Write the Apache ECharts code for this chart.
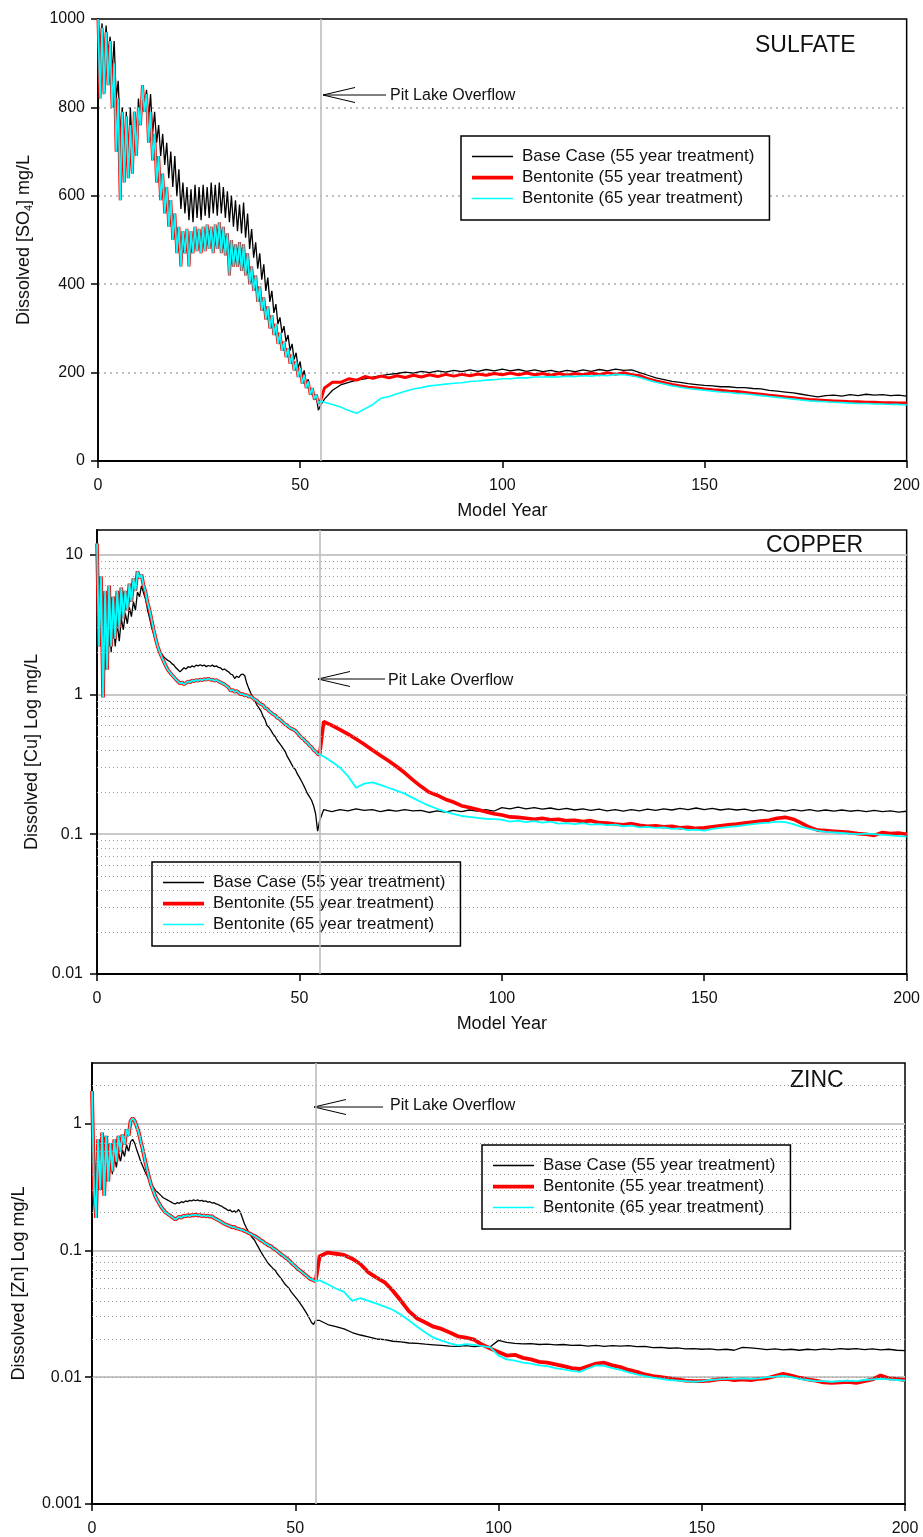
<!DOCTYPE html>
<html>
<head>
<meta charset="utf-8">
<script src="https://cdn.jsdelivr.net/npm/echarts@6/dist/echarts.min.js"></script>
<style>
  html, body { margin: 0; padding: 0; background: #fff; }
  #chart { width: 923px; height: 1537px; }
</style>
</head>
<body>
<div id="chart"></div>
<script>
// model years: half-year steps up to the overflow, then every 2 years
const yearsEarly = [
  0, 0.5, 1, 1.5, 2, 2.5, 3, 3.5, 4, 4.5,
  5, 5.5, 6, 6.5, 7, 7.5, 8, 8.5, 9, 9.5,
  10, 10.5, 11, 11.5, 12, 12.5, 13, 13.5, 14, 14.5,
  15, 15.5, 16, 16.5, 17, 17.5, 18, 18.5, 19, 19.5,
  20, 20.5, 21, 21.5, 22, 22.5, 23, 23.5, 24, 24.5,
  25, 25.5, 26, 26.5, 27, 27.5, 28, 28.5, 29, 29.5,
  30, 30.5, 31, 31.5, 32, 32.5, 33, 33.5, 34, 34.5,
  35, 35.5, 36, 36.5, 37, 37.5, 38, 38.5, 39, 39.5,
  40, 40.5, 41, 41.5, 42, 42.5, 43, 43.5, 44, 44.5,
  45, 45.5, 46, 46.5, 47, 47.5, 48, 48.5, 49, 49.5,
  50, 50.5, 51, 51.5, 52, 52.5, 53, 53.5, 54, 54.5,
  55
];
const yearsLate = [
  56, 58, 60, 62, 64, 66, 68, 70, 72, 74,
  76, 78, 80, 82, 84, 86, 88, 90, 92, 94,
  96, 98, 100, 102, 104, 106, 108, 110, 112, 114,
  116, 118, 120, 122, 124, 126, 128, 130, 132, 134,
  136, 138, 140, 142, 144, 146, 148, 150, 152, 154,
  156, 158, 160, 162, 164, 166, 168, 170, 172, 174,
  176, 178, 180, 182, 184, 186, 188, 190, 192, 194,
  196, 198, 200
];

const seriesNames = [
  "Base Case (55 year treatment)",
  "Bentonite (55 year treatment)",
  "Bentonite (65 year treatment)"
];
const overflowYear = 55;

// ---- sulfate (mg/L) ----
const soBaseEarly = [
  1000, 930, 990, 900, 985, 920, 960, 880, 950, 820,
  860, 740, 800, 680, 790, 650, 800, 700, 790, 700,
  820, 760, 850, 800, 840, 770, 830, 740, 790, 720,
  760, 690, 740, 670, 720, 640, 700, 620, 690, 600,
  660, 570, 630, 560, 620, 545, 615, 540, 625, 550,
  620, 545, 625, 555, 620, 550, 630, 560, 625, 555,
  630, 560, 620, 550, 610, 540, 600, 530, 590, 520,
  580, 515, 585, 505, 560, 480, 525, 460, 495, 435,
  470, 410, 445, 385, 415, 360, 385, 335, 355, 310,
  325, 290, 305, 270, 285, 250, 265, 230, 245, 210,
  225, 190, 205, 172, 185, 155, 165, 138, 145, 115,
  125
];
// both bentonite runs coincide until the overflow
const soBentEarly = [
  1000, 820, 980, 830, 970, 850, 950, 800, 900, 700,
  820, 590, 790, 630, 780, 640, 760, 650, 790, 690,
  800, 760, 850, 790, 830, 720, 790, 680, 740, 630,
  690, 590, 650, 560, 620, 530, 590, 500, 560, 470,
  530, 440, 520, 470, 525, 440, 520, 470, 530, 475,
  525, 470, 530, 475, 535, 480, 530, 470, 535, 480,
  540, 470, 530, 465, 515, 420, 500, 440, 490, 440,
  495, 430, 490, 420, 470, 400, 440, 385, 420, 360,
  395, 340, 370, 320, 350, 300, 330, 285, 310, 265,
  290, 250, 270, 235, 255, 220, 240, 205, 225, 190,
  210, 175, 195, 165, 180, 150, 165, 140, 150, 130,
  135
];
const soBaseLate = [
  140, 160, 172, 178, 183, 186, 190, 193, 196, 198,
  201, 199, 203, 200, 204, 201, 205, 202, 206, 203,
  207, 204, 208, 204, 207, 203, 206, 202, 205, 201,
  205, 202, 206, 203, 207, 204, 208, 205, 206, 200,
  194, 188, 184, 180, 178, 175, 173, 171, 170, 168,
  168, 166, 166, 164, 163, 160, 158, 156, 154, 151,
  148, 145, 148, 149, 147, 150, 148, 151, 149, 150,
  148, 149, 147
];
const soRedLate = [
  165, 178, 178, 186, 183, 191, 187, 192, 188, 193,
  189, 194, 190, 195, 191, 196, 192, 196, 193, 197,
  194, 198, 195, 199, 195, 199, 195, 198, 194, 198,
  194, 198, 195, 199, 195, 200, 196, 200, 195, 193,
  186, 181, 177, 173, 170, 167, 165, 163, 161, 160,
  158, 157, 155, 153, 151, 149, 147, 145, 143, 141,
  139, 138, 137, 136, 135, 134, 134, 133, 133, 132,
  132, 131, 131
];
const soCyanLate = [
  133, 128, 122, 114, 108, 118, 128, 142, 146, 152,
  158, 163, 166, 170, 172, 174, 176, 177, 180, 181,
  183, 184, 186, 186, 188, 188, 190, 190, 191, 190,
  192, 191, 193, 192, 194, 193, 196, 195, 193, 189,
  183, 178, 174, 170, 167, 164, 162, 160, 158, 156,
  155, 153, 152, 150, 148, 146, 144, 142, 140, 138,
  136, 135, 134, 133, 132, 131, 130, 130, 129, 129,
  128, 128, 127
];

// ---- copper (mg/L, log) ----
const cuBaseEarly = [
  10, 3, 6, 1.3, 4.5, 1.6, 4, 2.0, 3.6, 2.2,
  3.2, 2.4, 3.5, 2.9, 3.8, 3.2, 4.2, 3.6, 4.6, 4.0,
  5.4, 5.0, 6.0, 5.3, 4.8, 4.0, 3.5, 3.0, 2.7, 2.4,
  2.2, 2.05, 1.95, 1.85, 1.8, 1.75, 1.72, 1.66, 1.62, 1.55,
  1.5, 1.45, 1.5, 1.55, 1.52, 1.58, 1.56, 1.6, 1.57, 1.62,
  1.6, 1.63, 1.6, 1.62, 1.58, 1.61, 1.59, 1.62, 1.58, 1.6,
  1.56, 1.55, 1.5, 1.52, 1.48, 1.45, 1.4, 1.38, 1.3, 1.35,
  1.32, 1.38, 1.4, 1.36, 1.2, 1.1, 1.02, 0.96, 0.9, 0.84,
  0.8, 0.76, 0.7, 0.66, 0.6, 0.58, 0.55, 0.52, 0.5, 0.47,
  0.45, 0.43, 0.41, 0.39, 0.36, 0.34, 0.32, 0.3, 0.29, 0.27,
  0.255, 0.24, 0.225, 0.21, 0.195, 0.185, 0.175, 0.16, 0.14, 0.105,
  0.125
];
const cuBentEarly = [
  12, 2.2, 7, 0.95, 5.5, 1.5, 6, 2.2, 5, 2.5,
  5.5, 3.0, 5.8, 3.5, 5.5, 4.0, 6.2, 4.6, 6.8, 5.5,
  7.6, 6.8, 7.2, 6.0, 5.4, 4.5, 4.0, 3.4, 2.9, 2.5,
  2.2, 2.0, 1.85, 1.72, 1.6, 1.5, 1.44, 1.38, 1.33, 1.28,
  1.24, 1.2, 1.22, 1.18, 1.21, 1.24, 1.22, 1.26, 1.24, 1.27,
  1.25, 1.28, 1.26, 1.29, 1.27, 1.3, 1.27, 1.28, 1.25, 1.27,
  1.24, 1.22, 1.2, 1.18, 1.15, 1.12, 1.06, 1.08, 1.04, 1.06,
  1.03, 1.0, 1.01, 0.98, 0.99, 0.96, 0.97, 0.94, 0.92, 0.9,
  0.87, 0.85, 0.84, 0.8, 0.79, 0.76, 0.74, 0.72, 0.71, 0.68,
  0.67, 0.65, 0.63, 0.61, 0.6, 0.58, 0.57, 0.56, 0.55, 0.53,
  0.51, 0.49, 0.48, 0.46, 0.45, 0.43, 0.42, 0.4, 0.39, 0.375,
  0.37
];
const cuBaseLate = [
  0.15, 0.145, 0.15, 0.147, 0.152, 0.148, 0.15, 0.145, 0.149, 0.146,
  0.15, 0.147, 0.148, 0.143, 0.147, 0.144, 0.148, 0.145, 0.149, 0.146,
  0.15, 0.146, 0.155, 0.152, 0.156, 0.152, 0.155, 0.151, 0.154, 0.15,
  0.153, 0.149, 0.152, 0.148, 0.151, 0.147, 0.15, 0.146, 0.15, 0.147,
  0.151, 0.148, 0.152, 0.149, 0.153, 0.15, 0.154, 0.15, 0.153, 0.149,
  0.152, 0.149, 0.151, 0.147, 0.15, 0.146, 0.149, 0.146, 0.15, 0.147,
  0.15, 0.146, 0.149, 0.146, 0.149, 0.146, 0.148, 0.145, 0.148, 0.145,
  0.147, 0.144, 0.146
];
const cuRedLate = [
  0.64, 0.6, 0.56, 0.52, 0.48, 0.44, 0.4, 0.365, 0.335, 0.305,
  0.275, 0.245, 0.22, 0.2, 0.19, 0.178, 0.17, 0.16, 0.155, 0.15,
  0.145, 0.14, 0.137, 0.133, 0.132, 0.13, 0.128, 0.13, 0.127, 0.128,
  0.125, 0.126, 0.123, 0.125, 0.121, 0.12, 0.118, 0.117, 0.119, 0.116,
  0.114, 0.115, 0.113, 0.114, 0.111, 0.112, 0.11, 0.111, 0.113, 0.115,
  0.117, 0.118, 0.12, 0.122, 0.124, 0.126, 0.13, 0.132, 0.128, 0.12,
  0.112, 0.107, 0.106, 0.105, 0.104, 0.103, 0.101, 0.1, 0.098, 0.103,
  0.101, 0.102, 0.1
];
const cuCyanLate = [
  0.36, 0.33, 0.3, 0.26, 0.215, 0.23, 0.235, 0.225, 0.215, 0.205,
  0.195, 0.182, 0.17, 0.16, 0.152, 0.145, 0.14, 0.135, 0.133, 0.131,
  0.129, 0.128, 0.127, 0.123, 0.125, 0.122, 0.124, 0.121, 0.123, 0.119,
  0.12, 0.118, 0.12, 0.117, 0.118, 0.116, 0.117, 0.114, 0.115, 0.112,
  0.113, 0.111, 0.112, 0.109, 0.11, 0.107, 0.108, 0.106, 0.109, 0.111,
  0.113, 0.114, 0.116, 0.118, 0.12, 0.121, 0.123, 0.122, 0.118, 0.113,
  0.109, 0.106, 0.104, 0.103, 0.102, 0.101, 0.1, 0.101, 0.1, 0.099,
  0.098, 0.097, 0.096
];

// ---- zinc (mg/L, log) ----
const znBaseEarly = [
  1.6, 0.35, 0.2, 0.7, 0.3, 0.75, 0.3, 0.65, 0.36, 0.55,
  0.4, 0.55, 0.45, 0.6, 0.5, 0.62, 0.55, 0.68, 0.6, 0.72,
  0.75, 0.7, 0.62, 0.56, 0.5, 0.46, 0.42, 0.39, 0.36, 0.34,
  0.32, 0.3, 0.29, 0.28, 0.27, 0.26, 0.255, 0.25, 0.245, 0.24,
  0.235, 0.232, 0.238, 0.235, 0.242, 0.238, 0.245, 0.242, 0.248, 0.245,
  0.25, 0.246, 0.25, 0.245, 0.248, 0.243, 0.245, 0.24, 0.242, 0.236,
  0.238, 0.232, 0.23, 0.225, 0.222, 0.216, 0.212, 0.206, 0.208, 0.2,
  0.205, 0.198, 0.21, 0.2, 0.18, 0.162, 0.15, 0.14, 0.132, 0.125,
  0.12, 0.112, 0.105, 0.098, 0.092, 0.087, 0.082, 0.078, 0.075, 0.072,
  0.07, 0.066, 0.063, 0.06, 0.057, 0.054, 0.052, 0.05, 0.047, 0.045,
  0.043, 0.041, 0.039, 0.037, 0.035, 0.033, 0.031, 0.029, 0.027, 0.026,
  0.028
];
const znBentEarly = [
  1.8, 0.3, 0.18, 0.75, 0.3, 0.85, 0.27, 0.8, 0.35, 0.7,
  0.42, 0.75, 0.5, 0.8, 0.6, 0.82, 0.68, 0.9, 0.8, 1.05,
  1.1, 1.05, 0.95, 0.85, 0.72, 0.62, 0.52, 0.44, 0.38, 0.33,
  0.3, 0.27, 0.25, 0.235, 0.22, 0.21, 0.2, 0.195, 0.19, 0.185,
  0.18, 0.175, 0.18, 0.185, 0.18, 0.188, 0.185, 0.19, 0.186, 0.19,
  0.188, 0.192, 0.188, 0.19, 0.186, 0.189, 0.185, 0.188, 0.184, 0.186,
  0.18, 0.177, 0.173, 0.17, 0.166, 0.162, 0.16, 0.157, 0.155, 0.152,
  0.153, 0.149, 0.148, 0.146, 0.145, 0.142, 0.14, 0.137, 0.135, 0.132,
  0.13, 0.127, 0.124, 0.12, 0.118, 0.114, 0.112, 0.109, 0.108, 0.104,
  0.102, 0.099, 0.096, 0.093, 0.091, 0.088, 0.086, 0.083, 0.08, 0.077,
  0.075, 0.072, 0.07, 0.068, 0.066, 0.064, 0.062, 0.06, 0.059, 0.058,
  0.057
];
const znBaseLate = [
  0.028, 0.026, 0.025, 0.024, 0.0225, 0.0215, 0.0208, 0.02, 0.0198, 0.0192,
  0.019, 0.0186, 0.0185, 0.0182, 0.018, 0.0178, 0.0176, 0.0175, 0.0177, 0.0174,
  0.0176, 0.0174, 0.0195, 0.0188, 0.0185, 0.0183, 0.0184, 0.0181, 0.0182, 0.018,
  0.0181, 0.0178, 0.0179, 0.0176, 0.0178, 0.0175, 0.0177, 0.0176, 0.0177, 0.0174,
  0.0175, 0.0171, 0.0172, 0.0169, 0.017, 0.0167, 0.0168, 0.0166, 0.0167, 0.0164,
  0.0166, 0.0163, 0.0172, 0.017, 0.0168, 0.0165, 0.0167, 0.0164, 0.0166, 0.0163,
  0.0166, 0.0164, 0.0167, 0.0165, 0.0168, 0.0166, 0.0168, 0.0165, 0.0167, 0.0164,
  0.0166, 0.0163, 0.0162
];
const znRedLate = [
  0.09, 0.096, 0.094, 0.092, 0.086, 0.078, 0.067, 0.061, 0.056, 0.048,
  0.04, 0.033, 0.029, 0.027, 0.025, 0.024, 0.0225, 0.021, 0.0205, 0.0198,
  0.018, 0.0168, 0.0158, 0.0148, 0.015, 0.0142, 0.0138, 0.0132, 0.013, 0.0126,
  0.0122, 0.0118, 0.0116, 0.0122, 0.0128, 0.013, 0.0124, 0.012, 0.0114, 0.011,
  0.0105, 0.0102, 0.01, 0.0098, 0.0096, 0.0094, 0.0093, 0.0093, 0.0094, 0.0096,
  0.0097, 0.0095, 0.0096, 0.0095, 0.0097, 0.0098, 0.0102, 0.0106, 0.0103, 0.0099,
  0.0096, 0.0094, 0.0091, 0.009, 0.0091, 0.0092, 0.009, 0.0093, 0.0096, 0.0103,
  0.0098, 0.0097, 0.0095
];
const znCyanLate = [
  0.058, 0.054, 0.05, 0.047, 0.04, 0.042, 0.04, 0.038, 0.036, 0.034,
  0.031, 0.028, 0.025, 0.0225, 0.0205, 0.0194, 0.0185, 0.0178, 0.0182, 0.018,
  0.0176, 0.0172, 0.0148, 0.0138, 0.0135, 0.013, 0.0128, 0.0124, 0.0122, 0.0118,
  0.0115, 0.0112, 0.011, 0.0117, 0.0124, 0.0123, 0.0118, 0.0114, 0.0109, 0.0105,
  0.0102, 0.0099, 0.0097, 0.0095, 0.0094, 0.0093, 0.0092, 0.0093, 0.0095, 0.0096,
  0.0097, 0.0097, 0.0098, 0.0097, 0.0098, 0.01, 0.0101, 0.0103, 0.01, 0.0097,
  0.0095, 0.0093, 0.0093, 0.0092, 0.0093, 0.0094, 0.0093, 0.0095, 0.0096, 0.0097,
  0.0096, 0.0095, 0.0094
];

// dotted minor grid values on the log panels
const cuMinorGrid = [0.02, 0.03, 0.04, 0.05, 0.06, 0.07, 0.08, 0.09,
  0.2, 0.3, 0.4, 0.5, 0.6, 0.7, 0.8, 0.9, 2, 3, 4, 5, 6, 7, 8, 9];
const znMinorGrid = [0.002, 0.003, 0.004, 0.005, 0.006, 0.007, 0.008, 0.009,
  0.02, 0.03, 0.04, 0.05, 0.06, 0.07, 0.08, 0.09,
  0.2, 0.3, 0.4, 0.5, 0.6, 0.7, 0.8, 0.9, 2];

const years = yearsEarly.concat(yearsLate);
const pairs = (early, late) => {
  const v = early.concat(late);
  return years.map((x, i) => [x, v[i]]);
};

const FONT = '"Liberation Sans", Arial, sans-serif';
const colors = ["#000000", "#ff0000", "#00ffff"];

// legend line samples (thin / thick bar inside a 41x14 box)
const thinIcon = "path://M0,0h0.01v0.01h-0.01z M0,6.3h41v1.5h-41z M0,14h0.01v0.01h-0.01z";
const thickIcon = "path://M0,0h0.01v0.01h-0.01z M0,5.3h41v3.6h-41z M0,14h0.01v0.01h-0.01z";

const chart = echarts.init(document.getElementById("chart"));

const xAxisBase = (idx, withName) => ({
  type: "value",
  gridIndex: idx,
  min: 0,
  max: 200,
  interval: 50,
  name: withName ? "Model Year" : "",
  nameLocation: "middle",
  nameGap: 41,
  nameTextStyle: { fontSize: 18, color: "#111", fontFamily: FONT },
  axisLine: { show: true, onZero: false, lineStyle: { color: "#000", width: 1.8 } },
  axisTick: { show: true, inside: false, length: 7, lineStyle: { color: "#000", width: 1.5 } },
  axisLabel: { fontSize: 16, color: "#111", margin: 17, fontFamily: FONT },
  splitLine: { show: false },
});

const yAxisCommon = {
  nameLocation: "middle",
  nameTextStyle: {
    fontSize: 18,
    color: "#111",
    fontFamily: FONT,
    rich: { sub: { fontSize: 11, padding: [9, 0, 0, 0], fontFamily: FONT, color: "#111" } },
  },
  axisLine: { show: true, lineStyle: { color: "#000", width: 1.8 } },
  axisTick: { show: true, inside: false, length: 7, lineStyle: { color: "#000", width: 1.5 } },
};

// helper series carrying the vertical overflow line and minor grid
const helper = (idx, minor) => ({
  type: "line",
  xAxisIndex: idx,
  yAxisIndex: idx,
  data: [],
  silent: true,
  markLine: {
    silent: true,
    symbol: "none",
    animation: false,
    label: { show: false },
    data: minor
      .map((v) => ({ yAxis: v, lineStyle: { type: [1, 3], color: "#999", width: 1 } }))
      .concat([{ xAxis: overflowYear, lineStyle: { type: "solid", color: "#bdbdbd", width: 1.6 } }]),
  },
});

const panelSeries = (idx, sets, widths) =>
  sets.map((d, k) => ({
    name: seriesNames[k],
    type: "line",
    xAxisIndex: idx,
    yAxisIndex: idx,
    data: d,
    showSymbol: false,
    symbol: "none",
    lineStyle: { color: colors[k], width: widths[k] },
    itemStyle: { color: colors[k] },
    z: 3 + k,
  }));

const legendAt = (left, top) => ({
  data: [
    { name: seriesNames[0], icon: thinIcon },
    { name: seriesNames[1], icon: thickIcon },
    { name: seriesNames[2], icon: thinIcon },
  ],
  orient: "vertical",
  left: left,
  top: top,
  itemWidth: 41,
  itemHeight: 14,
  itemGap: 4,
  symbolKeepAspect: false,
  padding: [12, 15, 13, 11],
  borderColor: "#000",
  borderWidth: 1.5,
  backgroundColor: "#fff",
  selectedMode: false,
  textStyle: { fontSize: 17, color: "#111", fontFamily: FONT, padding: [0, 0, 0, 4] },
});

const arrow = (tipX, y, endX) => [
  { type: "line", shape: { x1: tipX, y1: y, x2: endX, y2: y }, style: { stroke: "#000", lineWidth: 1 } },
  {
    type: "polyline",
    shape: { points: [[tipX + 32, y - 7.5], [tipX, y], [tipX + 32, y + 7.5]] },
    style: { stroke: "#000", fill: null, lineWidth: 1 },
  },
];
const textAt = (x, y, text, size) => ({
  type: "text",
  x: x,
  y: y,
  style: { text: text, fontSize: size, fontFamily: FONT, fill: "#111", verticalAlign: "middle" },
});

chart.setOption({
  animation: false,
  textStyle: { fontFamily: FONT },
  grid: [
    { left: 98, top: 19, width: 812, height: 442, show: true, borderColor: "#000", borderWidth: 1.5, backgroundColor: "transparent" },
    { left: 97, top: 530, width: 811, height: 444, show: true, borderColor: "#000", borderWidth: 1.5, backgroundColor: "transparent" },
    { left: 92, top: 1063, width: 813, height: 441, show: true, borderColor: "#000", borderWidth: 1.5, backgroundColor: "transparent" },
  ],
  xAxis: [xAxisBase(0, true), xAxisBase(1, true), xAxisBase(2, false)],
  yAxis: [
    Object.assign({}, yAxisCommon, {
      type: "value",
      gridIndex: 0,
      min: 0,
      max: 1000,
      interval: 200,
      name: "Dissolved [SO{sub|4}] mg/L",
      nameGap: 64,
      axisLabel: { fontSize: 16, color: "#111", margin: 13, fontFamily: FONT, formatter: (v) => String(v) },
      splitLine: { show: true, showMinLine: false, showMaxLine: false, lineStyle: { type: [2, 4], color: "#aaa", width: 1.5 } },
    }),
    Object.assign({}, yAxisCommon, {
      type: "log",
      logBase: 10,
      gridIndex: 1,
      min: 0.01,
      max: 15,
      name: "Dissolved [Cu] Log mg/L",
      nameGap: 54,
      axisLabel: { fontSize: 16, color: "#111", margin: 14, fontFamily: FONT, showMaxLabel: false },
      splitLine: { show: true, showMinLine: false, showMaxLine: false, lineStyle: { type: "solid", color: "#c8c8c8", width: 2 } },
    }),
    Object.assign({}, yAxisCommon, {
      type: "log",
      logBase: 10,
      gridIndex: 2,
      min: 0.001,
      max: 3,
      name: "Dissolved [Zn] Log mg/L",
      nameGap: 64,
      axisLabel: { fontSize: 16, color: "#111", margin: 10, fontFamily: FONT, showMaxLabel: false },
      splitLine: { show: true, showMinLine: false, showMaxLine: false, lineStyle: { type: "solid", color: "#c8c8c8", width: 2 } },
    }),
  ],
  legend: [legendAt(461, 136), legendAt(152, 862), legendAt(482, 1145)],
  series: [
    helper(0, []),
    helper(1, cuMinorGrid),
    helper(2, znMinorGrid),
  ]
    .concat(panelSeries(0, [pairs(soBaseEarly, soBaseLate), pairs(soBentEarly, soRedLate), pairs(soBentEarly, soCyanLate)], [1.3, 3, 1.6]))
    .concat(panelSeries(1, [pairs(cuBaseEarly, cuBaseLate), pairs(cuBentEarly, cuRedLate), pairs(cuBentEarly, cuCyanLate)], [1.3, 3.6, 1.8]))
    .concat(panelSeries(2, [pairs(znBaseEarly, znBaseLate), pairs(znBentEarly, znRedLate), pairs(znBentEarly, znCyanLate)], [1.3, 3.8, 1.8])),
  graphic: []
    .concat([textAt(755, 46, "SULFATE", 23), textAt(766, 546, "COPPER", 23), textAt(790, 1081, "ZINC", 23)])
    .concat(arrow(323, 95, 386)).concat([textAt(390, 96, "Pit Lake Overflow", 16)])
    .concat(arrow(318, 679, 385)).concat([textAt(388, 681, "Pit Lake Overflow", 16)])
    .concat(arrow(314, 1107, 383)).concat([textAt(390, 1106, "Pit Lake Overflow", 16)]),
});
</script>
</body>
</html>
